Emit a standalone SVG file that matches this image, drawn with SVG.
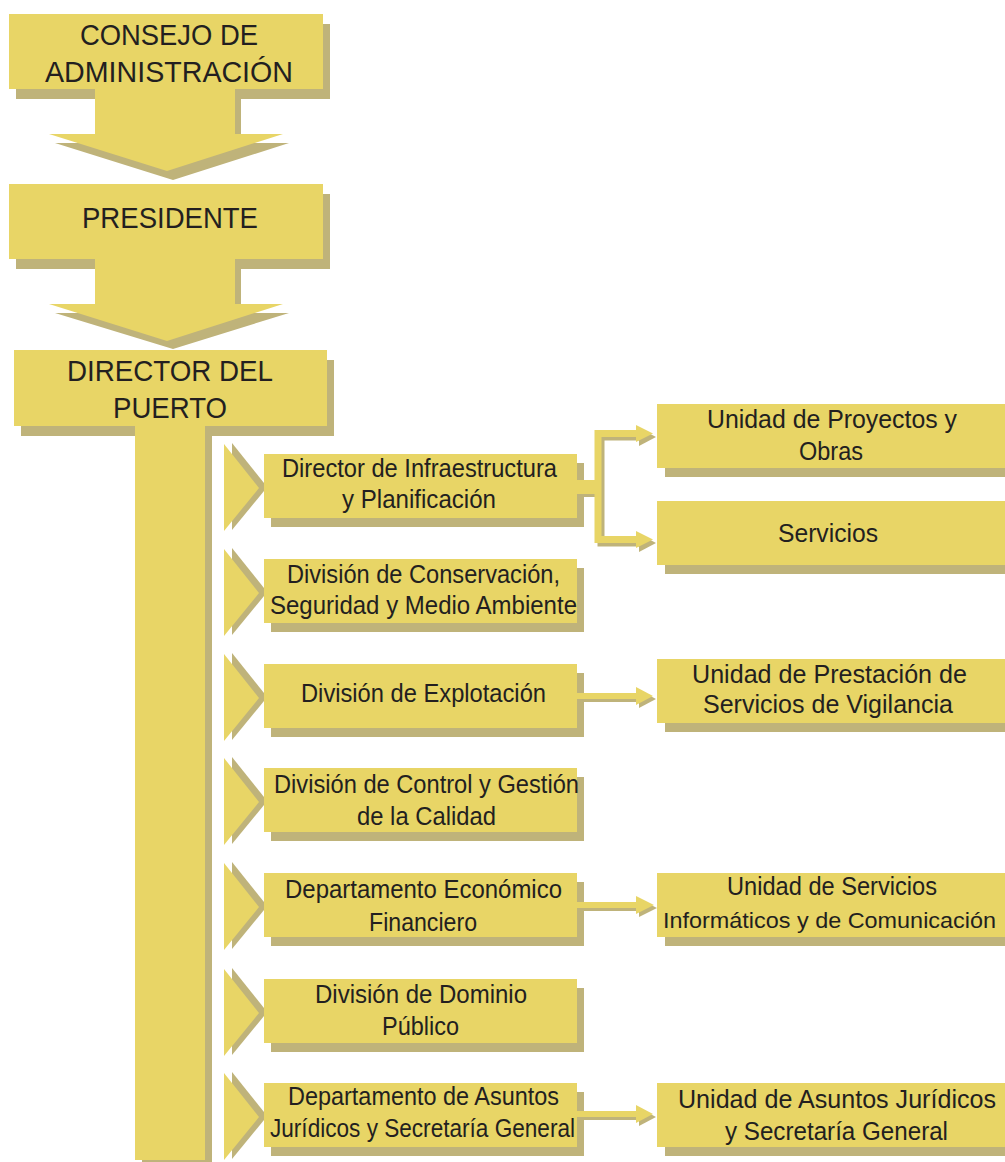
<svg xmlns="http://www.w3.org/2000/svg" width="1005" height="1162" viewBox="0 0 1005 1162">
<style>
.f{fill:#E8D566}
.s{fill:#BFB37A}
.ln{fill:none;stroke:#E8D566;stroke-width:7;stroke-linejoin:miter}
.lns{fill:none;stroke:#BFB37A;stroke-width:7;stroke-linejoin:miter}
text{font-family:"Liberation Sans",Arial,sans-serif;fill:#231F20}
.b{font-size:30px}
.t{font-size:25px}
</style>
<rect width="1005" height="1162" fill="#FFFFFF"/>
<g id="nodes">
<g id="consejo">
<rect class="s" x="16" y="24" width="314" height="75"/>
<rect class="f" x="9" y="14" width="314" height="75"/>
<text class="b" x="80" y="45" textLength="178" lengthAdjust="spacingAndGlyphs">CONSEJO DE</text>
<text class="b" x="45" y="82" textLength="248" lengthAdjust="spacingAndGlyphs">ADMINISTRACIÓN</text>
</g>
<g id="presidente">
<rect class="s" x="16" y="194" width="314" height="75"/>
<rect class="f" x="9" y="184" width="314" height="75"/>
<text class="b" x="82" y="228" textLength="176" lengthAdjust="spacingAndGlyphs">PRESIDENTE</text>
</g>
<g id="director">
<rect class="s" x="21" y="360" width="313" height="76"/>
<rect class="f" x="14" y="350" width="313" height="76"/>
<text class="b" x="67" y="381" textLength="206" lengthAdjust="spacingAndGlyphs">DIRECTOR DEL</text>
<text class="b" x="113" y="418" textLength="114" lengthAdjust="spacingAndGlyphs">PUERTO</text>
</g>
<g id="infraestructura">
<rect class="s" x="271" y="463" width="313" height="64"/>
<rect class="f" x="264" y="454" width="313" height="64"/>
<text class="t" x="282" y="477" textLength="275" lengthAdjust="spacingAndGlyphs">Director de Infraestructura</text>
<text class="t" x="342" y="508" textLength="154" lengthAdjust="spacingAndGlyphs">y Planificación</text>
</g>
<g id="conservacion">
<rect class="s" x="271" y="568" width="313" height="64"/>
<rect class="f" x="264" y="559" width="313" height="64"/>
<text class="t" x="287" y="583" textLength="273" lengthAdjust="spacingAndGlyphs">División de Conservación,</text>
<text class="t" x="270" y="614" textLength="307" lengthAdjust="spacingAndGlyphs">Seguridad y Medio Ambiente</text>
</g>
<g id="explotacion">
<rect class="s" x="271" y="673" width="313" height="64"/>
<rect class="f" x="264" y="664" width="313" height="64"/>
<text class="t" x="301" y="702" textLength="245" lengthAdjust="spacingAndGlyphs">División de Explotación</text>
</g>
<g id="calidad">
<rect class="s" x="271" y="777" width="313" height="64"/>
<rect class="f" x="264" y="768" width="313" height="64"/>
<text class="t" x="274" y="793" textLength="305" lengthAdjust="spacingAndGlyphs">División de Control y Gestión</text>
<text class="t" x="357" y="825" textLength="139" lengthAdjust="spacingAndGlyphs">de la Calidad</text>
</g>
<g id="economico">
<rect class="s" x="271" y="882" width="313" height="64"/>
<rect class="f" x="264" y="873" width="313" height="64"/>
<text class="t" x="285" y="898" textLength="277" lengthAdjust="spacingAndGlyphs">Departamento Económico</text>
<text class="t" x="369" y="931" textLength="108" lengthAdjust="spacingAndGlyphs">Financiero</text>
</g>
<g id="dominio">
<rect class="s" x="271" y="988" width="313" height="64"/>
<rect class="f" x="264" y="979" width="313" height="64"/>
<text class="t" x="315" y="1003" textLength="212" lengthAdjust="spacingAndGlyphs">División de Dominio</text>
<text class="t" x="382" y="1035" textLength="77" lengthAdjust="spacingAndGlyphs">Público</text>
</g>
<g id="juridicos">
<rect class="s" x="271" y="1092" width="313" height="64"/>
<rect class="f" x="264" y="1083" width="313" height="64"/>
<text class="t" x="288" y="1105" textLength="271" lengthAdjust="spacingAndGlyphs">Departamento de Asuntos</text>
<text class="t" x="270" y="1137" textLength="305" lengthAdjust="spacingAndGlyphs">Jurídicos y Secretaría General</text>
</g>
<g id="proyectos">
<rect class="s" x="665" y="413" width="360" height="64"/>
<rect class="f" x="657" y="404" width="360" height="64"/>
<text class="t" x="707" y="428" textLength="250" lengthAdjust="spacingAndGlyphs">Unidad de Proyectos y</text>
<text class="t" x="799" y="460" textLength="64" lengthAdjust="spacingAndGlyphs">Obras</text>
</g>
<g id="servicios">
<rect class="s" x="665" y="510" width="360" height="64"/>
<rect class="f" x="657" y="501" width="360" height="64"/>
<text class="t" x="778" y="542" textLength="100" lengthAdjust="spacingAndGlyphs">Servicios</text>
</g>
<g id="vigilancia">
<rect class="s" x="665" y="668" width="360" height="64"/>
<rect class="f" x="657" y="659" width="360" height="64"/>
<text class="t" x="692" y="683" textLength="275" lengthAdjust="spacingAndGlyphs">Unidad de Prestación de</text>
<text class="t" x="703" y="713" textLength="250" lengthAdjust="spacingAndGlyphs">Servicios de Vigilancia</text>
</g>
<g id="informaticos">
<rect class="s" x="665" y="882" width="360" height="64"/>
<rect class="f" x="657" y="873" width="360" height="64"/>
<text class="t" x="727" y="895" textLength="210" lengthAdjust="spacingAndGlyphs">Unidad de Servicios</text>
<text class="t" x="663" y="928" style="font-size:22.5px" textLength="333" lengthAdjust="spacingAndGlyphs">Informáticos y de Comunicación</text>
</g>
<g id="unidad-juridicos">
<rect class="s" x="665" y="1092" width="360" height="64"/>
<rect class="f" x="657" y="1083" width="360" height="64"/>
<text class="t" x="678" y="1108" textLength="318" lengthAdjust="spacingAndGlyphs">Unidad de Asuntos Jurídicos</text>
<text class="t" x="725" y="1140" textLength="223" lengthAdjust="spacingAndGlyphs">y Secretaría General</text>
</g>
</g>
<g id="connectors">
<polygon class="s" points="101,99 241,99 241,143 289,143 173,180 55,143 101,143"/>
<polygon class="f" points="95,89 235,89 235,134 283,134 167,171 49,134 95,134"/>
<polygon class="s" points="101,269 241,269 241,313 289,313 173,349 55,313 101,313"/>
<polygon class="f" points="95,259 235,259 235,304 283,304 167,341 49,304 95,304"/>
<rect class="s" x="142" y="436" width="70" height="740"/>
<rect class="f" x="135" y="426" width="70" height="734"/>
<g id="triangles">
<polygon class="s" points="232,443 264,483 264,491 232,530"/>
<polygon class="f" points="224,444 259,488 224,531"/>
<polygon class="s" points="232,548 264,588 264,596 232,635"/>
<polygon class="f" points="224,549 259,593 224,636"/>
<polygon class="s" points="232,653 264,693 264,701 232,740"/>
<polygon class="f" points="224,654 259,698 224,741"/>
<polygon class="s" points="232,757 264,797 264,805 232,844"/>
<polygon class="f" points="224,758 259,802 224,845"/>
<polygon class="s" points="232,862 264,902 264,910 232,949"/>
<polygon class="f" points="224,863 259,907 224,950"/>
<polygon class="s" points="232,968 264,1008 264,1016 232,1055"/>
<polygon class="f" points="224,969 259,1013 224,1056"/>
<polygon class="s" points="232,1072 264,1112 264,1120 232,1159"/>
<polygon class="f" points="224,1073 259,1117 224,1160"/>
</g>
<path class="lns" d="M641 437 H601 V543 H641"/>
<rect class="s" x="580" y="483" width="20" height="14"/>
<polygon class="s" points="639,428 656,437 639,446"/>
<polygon class="s" points="639,534 656,543 639,552"/>
<path class="ln" d="M641 433.5 H598 V539.5 H641"/>
<rect class="f" x="577" y="480" width="22" height="14"/>
<polygon class="f" points="636,425 653,433.5 636,442"/>
<polygon class="f" points="636,531 653,539.5 636,548"/>
<path class="lns" d="M580 699 H641" style="stroke-width:6"/>
<polygon class="s" points="639,690 656,699 639,708"/>
<path class="ln" d="M577 696 H641" style="stroke-width:6"/>
<polygon class="f" points="636,687 653,696 636,705"/>
<path class="lns" d="M580 908 H641" style="stroke-width:6"/>
<polygon class="s" points="639,899 657,908 639,917"/>
<path class="ln" d="M577 905 H641" style="stroke-width:6"/>
<polygon class="f" points="636,896 654,905 636,914"/>
<path class="lns" d="M580 1117 H641" style="stroke-width:6"/>
<polygon class="s" points="639,1108 656,1117 639,1126"/>
<path class="ln" d="M577 1114 H641" style="stroke-width:6"/>
<polygon class="f" points="636,1105 653,1114 636,1123"/>
</g>
</svg>
